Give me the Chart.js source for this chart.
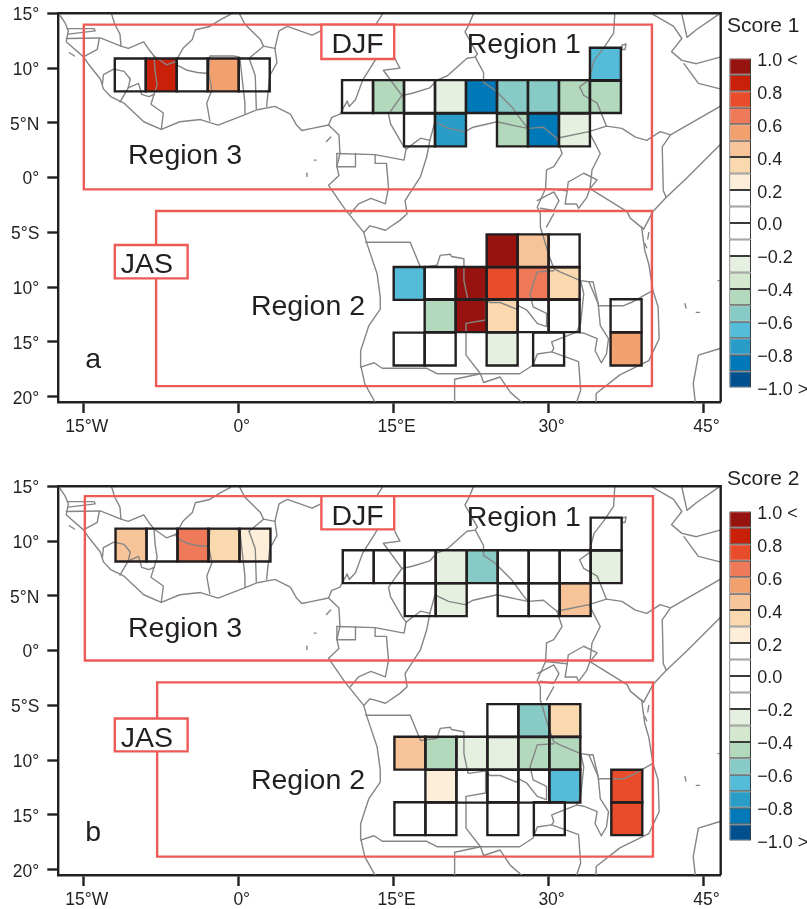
<!DOCTYPE html>
<html>
<head>
<meta charset="utf-8">
<script src="https://cdn.jsdelivr.net/npm/chart.js@4"></script>
<style>
html, body { margin: 0; padding: 0; background: #fff; }
canvas { position: absolute; }
</style>
</head>
<body>
<canvas id="mapA" style="left:0;top:0"></canvas>
<canvas id="barA" style="left:727px;top:0"></canvas>
<canvas id="mapB" style="left:0;top:473.4px"></canvas>
<canvas id="barB" style="left:727px;top:453px"></canvas>
<script>
// tick values on the map axes
const lonTicks = [-15, 0, 15, 30, 45];
const latTicks = [15, 10, 5, 0, -5, -10, -15, -20];

// colour bins of the score bar, top to bottom
const binEdges = [1, 0.9, 0.8, 0.7, 0.6, 0.5, 0.4, 0.3, 0.2, 0.1, 0, -0.1, -0.2, -0.3, -0.4, -0.5, -0.6, -0.7, -0.8, -0.9, -1];
const binColors = ['#97130f', '#c9200a', '#e94c2b', '#ee7a5a', '#f3a06f', '#f6c498', '#fad9ae', '#fdeed9',
    '#ffffff', '#ffffff', '#ffffff', '#ffffff',
    '#e5f0e1', '#d4e8d0', '#b2d9bc', '#88cbc6', '#54bcd8', '#2a9cc8', '#0079b8', '#00508f'];

// panel a cells: left lon, top lat, score
const aCellLon = [34, 10, 13, 16, 19, 22, 25, 28, 31, 34, 16, 19, 25, 28, 31,
    -12, -9, -6, -3, 0,
    24, 27, 30, 15, 18, 21, 24, 27, 30, 18, 21, 24, 27, 30, 36, 15, 18, 24, 28.5, 36];
const aCellTop = [11.85, 8.9, 8.9, 8.9, 8.9, 8.9, 8.9, 8.9, 8.9, 8.9, 5.85, 5.85, 5.85, 5.85, 5.85,
    10.87, 10.87, 10.87, 10.87, 10.87,
    -5.18, -5.18, -5.18, -8.16, -8.16, -8.16, -8.16, -8.16, -8.16, -11.1, -11.1, -11.1, -11.1, -11.1, -11.1, -14.15, -14.15, -14.15, -14.15, -14.15];
const aScore = [-0.65, 0, -0.45, 0, -0.25, -0.85, -0.55, -0.55, -0.45, -0.45, 0, -0.75, -0.45, -0.85, -0.25,
    0, 0.85, 0, 0.55, 0,
    0.95, 0.45, 0, -0.65, 0, 0.95, 0.75, 0.65, 0.35, -0.45, 0.95, 0.35, 0, 0, 0, 0, 0, -0.25, 0, 0.55];

// panel b cells
const bCellLon = [34.07, 10.07, 13.07, 16.07, 19.07, 22.07, 25.07, 28.07, 31.07, 34.07, 16.07, 19.07, 25.07, 28.07, 31.07,
    -11.93, -8.93, -5.93, -2.93, 0.07,
    24.07, 27.07, 30.07, 15.07, 18.07, 21.07, 24.07, 27.07, 30.07, 18.07, 21.07, 24.07, 27.07, 30.07, 36.07, 15.07, 18.07, 24.07, 28.57, 36.07];
const bCellTop = [12.14, 9.16, 9.16, 9.16, 9.16, 9.16, 9.16, 9.16, 9.16, 9.16, 6.15, 6.15, 6.15, 6.15, 6.15,
    11.14, 11.14, 11.14, 11.14, 11.14,
    -4.88, -4.88, -4.88, -7.86, -7.86, -7.86, -7.86, -7.86, -7.86, -10.87, -10.87, -10.87, -10.87, -10.87, -10.87, -13.84, -13.84, -13.84, -13.84, -13.84];
const bScore = [0, 0, 0, 0, -0.25, -0.55, 0, 0, 0, -0.25, 0, -0.25, 0, 0, 0.45,
    0.45, 0, 0.65, 0.35, 0.25,
    0, -0.55, 0.35, 0.45, -0.45, -0.25, -0.25, -0.45, -0.45, 0.25, 0, 0, 0, -0.65, 0.75, 0, 0, 0, 0, 0.75];

// region boxes: lon0, lat0, lon1, lat1
const aRegions = [[-15, 13.97, 40, -1.07], [-8, -3.05, 40, -19.03]];
const bRegions = [[-14.9, 14.1, 40.1, -0.9], [-7.9, -2.9, 40.1, -18.8]];
const aTagBoxes = [[8, 13.97, 15.05, 10.83], [-12, -6.15, -4.95, -9.2]];
const bTagBoxes = [[8, 14.1, 15.05, 11.07], [-12, -6.2, -4.95, -9.2]];

// map text: text, lon, lat
const aTexts = [['Region 1', 27.6, 12.1], ['Region 3', -5.2, 2.0], ['Region 2', 6.7, -11.8], ['DJF', 11.5, 12.1], ['JAS', -8.9, -8.0], ['a', -14.1, -16.7]];
const bTexts = [['Region 1', 27.6, 12.06], ['Region 3', -5.2, 2.0], ['Region 2', 6.7, -11.9], ['DJF', 11.5, 12.15], ['JAS', -8.9, -8.1], ['b', -14.1, -16.65]];

// coast and border lines, lon/lat pairs
const westCoast = [[-17.3,14.8],[-16.8,14.1],[-16.5,13.4],[-16.7,12.4],[-16.1,11.9],[-15,11],[-14.5,10.3],[-13.4,9],[-13.1,8.1],[-12.4,7.4],[-11.1,6.8],[-9.2,5.1],[-7.5,4.4],[-5.7,5.1],[-3.7,5.3],[-2,4.8],[0.5,5.7],[1.8,6.2],[3.5,6.5],[5,5.8],[5.6,4.8],[6.1,4.3],[7.1,4.5],[8.7,4.8],[9.7,3.9],[9.8,2.2],[9.5,1],[9.7,0.2],[8.7,-0.7],[9.5,-1.8],[10.3,-2.9],[12.1,-5],[12.4,-6],[13.4,-8.8],[13.7,-10.9],[13.7,-12],[12.6,-13.5],[11.8,-15.8],[11.8,-17.1],[12.2,-18.8],[13.2,-20.5]];
const eastCoast = [[40.1,14.9],[42.1,13.8],[42.9,12.7],[41.9,11.5],[42.9,10.7],[44.3,10.4],[46.6,11]];
const eastCoast2 = [[46.6,3],[43.4,0],[41.4,-1.8],[40.1,-3.1],[39.2,-4.7],[39,-4.5],[39.3,-6.6],[39.7,-7.9],[40.1,-10.3],[40.6,-11.8],[40.7,-14.7],[39.7,-16.7],[36.9,-18],[34.6,-19.7],[34.6,-20.5]];
const arabia = [[42.9,14.9],[43.4,12.8],[44.3,13.5],[46.6,15]];
const madagascar = [[46.6,-15.6],[44.5,-16.2],[44,-18.8],[44.2,-20.5]];
const gambia = [[-16.6,13.6],[-14,13.6],[-13.9,13.4],[-16.5,13.1]];
const guineaNorth = [[-16.7,12.7],[-13.4,12.75],[-11.4,12],[-10.7,11.8],[-9.2,12.4],[-8.7,11.7],[-8.2,11.1],[-7,10.3],[-6.1,10.6],[-6,10.3],[-5,9.8],[-4,9.6],[-2.9,9.5],[-2.6,8],[-3.1,6.8],[-2.8,5.2]];
const bissau = [[-14.9,11.1],[-13.7,11.7],[-13.5,12.7]];
const senegalEast = [[-12.3,14.9],[-12,14],[-11.5,13.1],[-11.4,12]];
const sierraLeone = [[-13.2,8.5],[-13.1,9.4],[-12.1,9.9],[-11.1,9.7],[-10.5,9],[-10.7,8.2],[-11.5,6.9]];
const liberia = [[-10.7,8.2],[-9.7,8.6],[-9.4,7.6],[-8.7,7.4],[-8.2,7.6],[-8.5,6.7],[-7.3,5.9],[-7.5,4.4]];
const ivoryWest = [[-8.2,7.6],[-7.9,8.5],[-8.1,9.7],[-8.2,11.1]];
const maliBurkina = [[-6.1,10.6],[-5.4,11.8],[-4.5,12.6],[-4.2,13.5],[-2.8,13.8],[-1.8,14.4],[-0.8,14.9]];
const ghanaNorth = [[-2.9,9.5],[-2.8,11.1],[-0.5,11.1],[0.1,11],[0.3,9.3],[0.6,6.8],[0.6,5.8]];
const togoBenin = [[1,10.9],[1.6,9.3],[1.7,6.3]];
const beninEast = [[3.5,11.8],[3.7,10.5],[3,9.3],[2.7,6.5]];
const nigerWest = [[0.1,14.9],[0.6,14],[2.1,12.6],[2.4,12],[3.5,11.8]];
const beninNorth = [[2.4,12],[1,10.9]];
const nigeriaNorth = [[3.5,11.8],[3.9,13.4],[4.7,13.8],[7.1,13],[8.2,13.5],[12,13.3],[14,12],[13.2,10.7],[12,8.9],[11.3,7.1],[10.7,6.5],[10.5,7],[9.8,5.8],[9,5.5],[8.7,4.8]];
const chadNiger = [[13.9,14.9],[13.2,13.9],[13.5,13.7]];
const chadCameroon = [[15.1,10.9],[15.6,10],[14,9.8],[15.8,7.5],[14.5,5.8],[14.7,4.9],[15.8,3.1],[16.2,2.6],[16,1.6],[13.2,2.1],[9.5,2.2]];
const gabonNorth = [[9.5,2.2],[9.5,1],[11.3,1],[11.3,2.2]];
const gabonEast = [[13.2,2.1],[13.2,1.3],[14.3,1.3],[14.5,-0.9],[14.2,-2.4],[12.8,-1.9],[11.6,-2.4],[10.8,-3.3]];
const carSouth = [[16.2,2.6],[17.6,3.6],[18.5,3.4],[19,5.1],[20.3,4.5],[21.9,4.2],[22.7,4.6],[25,5.1],[26.9,4.7],[28,4.5]];
const chadSudan = [[22.7,14.9],[22.2,13.8],[21.9,13.3],[22.2,12.8],[23.1,11.3],[22.9,11],[23.7,9.6],[23.7,8.7],[24.8,8],[26.4,6.5],[27.4,5.2],[28,4.5],[29.5,4.6],[30.8,3.6],[33.9,4.2],[35.6,4.7],[37.1,4.5],[38.4,3.7],[39.5,3.4],[40.8,4.2],[41.8,3.9],[46.6,6.5]];
const chadSouth = [[22.9,11],[22.1,10.9],[20.2,9.3],[19.2,8.9],[18.5,8.2],[16.8,7.7],[15.8,7.5]];
const congoRiver = [[18.5,3.4],[18.2,1.9],[17.6,0.1],[16.1,-2.1],[16.3,-3.3],[15.6,-3.9],[14.2,-4.8],[13.1,-4.5],[12.7,-4.4],[12.1,-5]];
const angolaNorth = [[12.3,-5.9],[16.6,-5.9],[17.6,-8.2],[19.2,-8],[19.5,-7.1],[20.5,-7],[20.6,-7.2],[21.8,-7.4],[21.8,-9.4],[22.2,-11.2],[23.9,-11],[23.9,-13],[22,-13.3],[22,-16.2],[23.4,-17.9]];
const zambiaNorth = [[23.9,-11],[24.3,-11.4],[25.3,-11.4],[26.9,-12],[27.1,-11.7],[27.9,-12.1],[28.9,-13.3],[29.8,-13.6],[29.8,-12.4],[28.5,-11.8],[28.2,-10.6],[28.9,-8.6],[30.5,-8.5]];
const rift = [[30.8,3.6],[31.3,2.2],[30.5,1],[29.8,0.7],[29.7,-1],[28.9,-2.7],[29.2,-3.3],[29.2,-4.5],[30,-7],[30.5,-8.3],[31.1,-8.6],[33.1,-9.4],[33.9,-9.5],[34.3,-9.5],[34.8,-11.5]];
const burundi = [[30.5,-3.3],[29.8,-4.5]];
const rwanda = [[28.9,-2.1],[30.5,-1.3],[31,-2.1],[30.5,-3],[29.2,-2.8]];
const kenyaWest = [[33.9,4.2],[35,2.2],[34.2,0.7],[34,-1],[37.6,-3.1],[37.9,-3.7],[39.2,-4.7]];
const victoria = [[31.9,-0.4],[33.4,0.4],[34.7,-0.2],[34,-1],[33.7,-1.8],[32.9,-2.8],[32.7,-2.4],[31.6,-2.4],[31.8,-1.2],[31.9,-0.4]];
const ugandaSouth = [[29.7,-1],[31.8,-1.2]];
const ethiopiaWest = [[36.4,14.9],[36.3,13.2],[35.3,11.8],[34.4,10.7],[33.9,8.9],[33,8.3],[33.4,7.5],[34.7,6.8],[35.6,4.7]];
const somaliaNorth = [[43.1,10.4],[44.5,8.6],[46.6,8.1]];
const kenyaEast = [[41.8,3.9],[41,2.8],[41.1,-1.2],[41.4,-1.8]];
const lakeTana = [[37.1,12.1],[37.5,12.2],[37.4,11.7],[37.1,11.7],[37.1,12.1]];
const angolaSouth = [[11.8,-17.3],[13.1,-16.9],[13.9,-17.4],[18.2,-17.4],[19.2,-17.9],[23.4,-17.9]];
const namibiaEast = [[23.4,-17.9],[20.9,-18.4],[20.9,-20.5]];
const botswana = [[23.4,-17.9],[23.7,-18.7],[25.3,-18.2],[26.3,-19.6],[27.4,-20.5]];
const zambiaSouth = [[23.4,-17.9],[27.2,-17.9],[28.5,-17.1],[28.9,-16.1],[30.3,-15.9],[32.9,-16.8],[33.1,-19.4],[32.7,-20.5]];
const zambiaEast = [[30.3,-15.9],[30.5,-15.6],[30.3,-15],[32.7,-14.1],[33.1,-13.3],[33.4,-10.6],[33.1,-9.4]];
const malawi = [[32.7,-14.1],[33.4,-14.2],[34.7,-14.7],[34.5,-15.8],[35.1,-16.9],[35.6,-16.1],[35.8,-14.7],[35,-13.5],[34.8,-11.5],[33.9,-9.5]];
const rovuma = [[34.8,-11.7],[37.2,-11.7],[38,-11.4],[40.1,-10.3]];
const bioko = [[8.5,3.3],[8.9,3.7]];
const saoTome = [[6.6,0.1],[6.6,0.4]];
const principe = [[7.3,1.6],[7.5,1.6]];
const zanzibar = [[39.7,-5],[39.6,-5.6]];
const mafia = [[39.3,-6],[39.5,-6.4]];
const bissagos = [[-16.4,11.4],[-15.9,11.1]];
const comoros = [[43.2,-11.5],[43.3,-11.9]];
const mayotte = [[44.3,-12.3],[44.6,-12.3]];
const seychelles = [[46.4,-9.4],[46.5,-9.4]];
const mapLines = [westCoast, eastCoast, eastCoast2, arabia, madagascar, gambia, guineaNorth, bissau, senegalEast,
    sierraLeone, liberia, ivoryWest, maliBurkina, ghanaNorth, togoBenin, beninEast, nigerWest, beninNorth, nigeriaNorth,
    chadNiger, chadCameroon, gabonNorth, gabonEast, carSouth, chadSudan, chadSouth, congoRiver, angolaNorth, zambiaNorth,
    rift, burundi, rwanda, kenyaWest, victoria, ugandaSouth, ethiopiaWest, somaliaNorth, kenyaEast, lakeTana, angolaSouth,
    namibiaEast, botswana, zambiaSouth, zambiaEast, malawi, rovuma, bioko, saoTome, principe, zanzibar, mafia, bissagos,
    comoros, mayotte, seychelles];

const INK = '#231f20';
const RED = '#ee5a55';
const CELL_SIZE = 3;
const fontName = '"Liberation Sans", Arial, sans-serif';

function scoreColor(score){
    for(let i = 0; i < binColors.length; i++){
        if(score <= binEdges[i] && score > binEdges[i + 1]){
            return binColors[i];
        }
    }
    return '#ffffff';
}

function boxPoints(lon0, lat0, lon1, lat1){
    return [{x: lon0, y: lat0}, {x: lon1, y: lat0}, {x: lon1, y: lat1}, {x: lon0, y: lat1}, {x: lon0, y: lat0}];
}

function lineStyle(color, width, order){
    return {showLine: true, pointRadius: 0, borderColor: color, borderWidth: width, order: order,
        tension: 0, borderJoinStyle: 'miter', borderCapStyle: 'square'};
}

function mapDatasets(cellLon, cellTop, scores, regions, tagBoxes){
    const sets = [];
    // filled cells sit under the coast, their frames on top of it
    cellLon.forEach((lon, i) => {
        const pts = boxPoints(lon, cellTop[i], lon + CELL_SIZE, cellTop[i] - CELL_SIZE);
        sets.push(Object.assign(lineStyle('rgba(0,0,0,0)', 0, 6), {data: pts, fill: 'shape', backgroundColor: scoreColor(scores[i])}));
    });
    mapLines.forEach(line => {
        const pts = line.map(p => ({x: p[0], y: p[1]}));
        sets.push(Object.assign(lineStyle('#858585', 1.4, 5), {data: pts, fill: false, borderCapStyle: 'round', borderJoinStyle: 'round'}));
    });
    cellLon.forEach((lon, i) => {
        const pts = boxPoints(lon, cellTop[i], lon + CELL_SIZE, cellTop[i] - CELL_SIZE);
        sets.push(Object.assign(lineStyle(INK, 2.4, 4), {data: pts, fill: false}));
    });
    regions.forEach(r => {
        sets.push(Object.assign(lineStyle(RED, 2.4, 3), {data: boxPoints(r[0], r[1], r[2], r[3]), fill: false}));
    });
    tagBoxes.forEach(r => {
        sets.push(Object.assign(lineStyle(RED, 2.4, 2), {data: boxPoints(r[0], r[1], r[2], r[3]), fill: 'shape', backgroundColor: '#ffffff'}));
    });
    return sets;
}

const mapExtras = {
    id: 'mapExtras',
    afterDatasetsDraw(chart){
        const ctx = chart.ctx;
        const area = chart.chartArea;
        ctx.save();
        ctx.fillStyle = INK;
        ctx.font = '28.5px ' + fontName;
        ctx.textAlign = 'center';
        ctx.textBaseline = 'middle';
        chart.options.plugins.mapExtras.texts.forEach(t => {
            ctx.fillText(t[0], chart.scales.x.getPixelForValue(t[1]), chart.scales.y.getPixelForValue(t[2]));
        });
        // top and right frame
        ctx.strokeStyle = INK;
        ctx.lineWidth = 2.4;
        ctx.beginPath();
        ctx.moveTo(area.left, area.top);
        ctx.lineTo(area.right, area.top);
        ctx.lineTo(area.right, area.bottom);
        ctx.stroke();
        ctx.restore();
    }
};

function lonLabel(v){
    if(v < 0) return Math.abs(v) + '°W';
    if(v == 0) return '0°';
    if(v == 15) return '15°E';
    return v + '°';
}

function latLabel(v){
    if(v == 5) return '5°N';
    if(v == -5) return '5°S';
    return Math.abs(v) + '°';
}

function createMap(id, cellLon, cellTop, scores, regions, tagBoxes, texts){
    const canvas = document.getElementById(id);
    canvas.width = 807;
    canvas.height = 440;
    canvas.style.width = '807px';
    canvas.style.height = '440px';
    const tickFont = {family: fontName, size: 17.5};
    const axisGrid = {drawOnChartArea: false, tickLength: 11, tickWidth: 2.4, tickColor: INK};
    const axisBorder = {color: INK, width: 2.4};
    return new Chart(canvas.getContext('2d'), {
        type: 'scatter',
        data: {datasets: mapDatasets(cellLon, cellTop, scores, regions, tagBoxes)},
        plugins: [mapExtras],
        options: {
            responsive: false,
            animation: false,
            layout: {padding: {top: 13.3, right: 86.3, left: 0, bottom: 0}},
            plugins: {legend: {display: false}, tooltip: {enabled: false}, mapExtras: {texts: texts}},
            scales: {
                x: {
                    type: 'linear', min: -17.47, max: 46.66,
                    afterBuildTicks: scale => { scale.ticks = lonTicks.map(v => ({value: v})); },
                    afterFit: scale => { scale.height = 38; scale.paddingLeft = 0; scale.paddingRight = 0; },
                    grid: axisGrid, border: axisBorder,
                    ticks: {color: INK, font: tickFont, padding: 4, maxRotation: 0, labelOffset: 3, callback: v => lonLabel(v)}
                },
                y: {
                    type: 'linear', min: -20.48, max: 15,
                    afterBuildTicks: scale => { scale.ticks = latTicks.map(v => ({value: v})); },
                    afterFit: scale => { scale.width = 58.3; scale.paddingTop = 0; scale.paddingBottom = 0; },
                    grid: axisGrid, border: axisBorder,
                    ticks: {color: INK, font: tickFont, padding: 8, labelOffset: 2, callback: v => latLabel(v)}
                }
            }
        }
    });
}

function barLabel(v){
    const r = Math.round(v * 10) / 10;
    if(r == 1) return '1.0 <';
    if(r == -1) return '\u22121.0 >';
    return (r < 0 ? '\u2212' : '') + Math.abs(r).toFixed(1);
}

function createBar(id, title){
    const canvas = document.getElementById(id);
    canvas.width = 80;
    canvas.height = 400;
    canvas.style.width = '80px';
    canvas.style.height = '400px';
    return new Chart(canvas.getContext('2d'), {
        type: 'bar',
        data: {
            labels: ['score'],
            datasets: binColors.map((c, i) => ({
                data: [[binEdges[i + 1], binEdges[i]]],
                backgroundColor: c,
                borderColor: '#3a3a3a',
                borderWidth: 1,
                borderSkipped: false,
                grouped: false,
                categoryPercentage: 1,
                barPercentage: 0.825
            }))
        },
        options: {
            responsive: false,
            animation: false,
            layout: {padding: {left: 0, right: 0, top: 0, bottom: 12.3}},
            plugins: {
                legend: {display: false},
                tooltip: {enabled: false},
                title: {display: true, text: title, align: 'start', color: INK,
                    font: {family: fontName, size: 21, weight: 'normal'}, padding: {top: 14, bottom: 19.1}}
            },
            scales: {
                x: {display: false},
                y: {
                    position: 'right', min: -1, max: 1,
                    afterBuildTicks: scale => { scale.ticks = binEdges.filter((e, i) => i % 2 == 0).map(v => ({value: v})); },
                    afterFit: scale => { scale.width = 53.7; scale.paddingTop = 0; scale.paddingBottom = 0; },
                    grid: {display: false, drawTicks: false},
                    border: {display: false},
                    ticks: {color: INK, font: {family: fontName, size: 18}, padding: 4, labelOffset: 2.5, callback: v => barLabel(v)}
                }
            }
        }
    });
}

createMap('mapA', aCellLon, aCellTop, aScore, aRegions, aTagBoxes, aTexts);
createMap('mapB', bCellLon, bCellTop, bScore, bRegions, bTagBoxes, bTexts);
createBar('barA', 'Score 1');
createBar('barB', 'Score 2');
</script>
</body>
</html>
